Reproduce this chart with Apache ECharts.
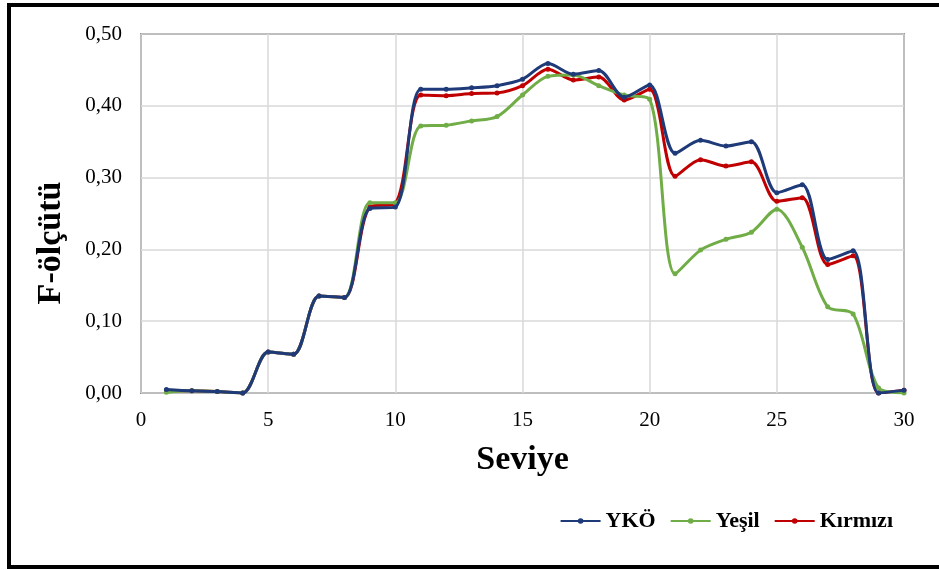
<!DOCTYPE html>
<html><head><meta charset="utf-8">
<script src="https://cdn.jsdelivr.net/npm/echarts@6/dist/echarts.min.js"></script>
<style>html,body{margin:0;padding:0;background:#fff}#c{width:939px;height:570px}</style>
</head><body><div id="c"></div>
<script>
const levels = [1,2,3,4,5,6,7,8,9,10,11,12,13,14,15,16,17,18,19,20,21,22,23,24,25,26,27,28,29,30];
const yko = [0.005,0.003,0.002,0.000,0.057,0.054,0.135,0.133,0.257,0.259,0.423,0.423,0.425,0.428,0.437,0.459,0.444,0.449,0.412,0.429,0.334,0.352,0.344,0.350,0.279,0.290,0.186,0.198,0.000,0.004];
const yesil = [0.001,0.003,0.002,0.000,0.057,0.054,0.135,0.133,0.265,0.265,0.372,0.373,0.379,0.385,0.415,0.441,0.443,0.428,0.415,0.409,0.166,0.199,0.214,0.224,0.256,0.203,0.120,0.110,0.007,0.000];
const kirmizi = [0.003,0.003,0.002,0.000,0.057,0.054,0.135,0.133,0.259,0.264,0.415,0.414,0.417,0.418,0.428,0.451,0.436,0.440,0.408,0.423,0.302,0.325,0.316,0.322,0.267,0.272,0.179,0.191,0.000,0.004];
const seriesNames = ['YKÖ','Yeşil','Kırmızı'];
const xTitle = 'Seviye';
const yTitle = 'F-ölçütü';

const colors = ['#1f3a78','#70ad47','#c00000'];
const font = '"Liberation Serif","Times New Roman",serif';
const chart = echarts.init(document.getElementById('c'));
function mk(name, data, i){
  return {name, type:'line', data: levels.map((x,k)=>[x,data[k]]), smooth:0.3,
    symbol:'circle', symbolSize:5, z: 10-i,
    lineStyle:{width:3,color:colors[i]}, itemStyle:{color:colors[i]}};
}
chart.setOption({
  animation:false,
  textStyle:{fontFamily:font},
  grid:{left:141,top:34,right:35,bottom:177,show:true,borderColor:'#404040',borderWidth:1.5},
  xAxis:{type:'value',min:0,max:30,interval:5,
    axisLine:{show:false},axisTick:{show:false},
    axisLabel:{color:'#000',fontSize:21,margin:17,fontFamily:font},
    splitLine:{lineStyle:{color:'#d9d9d9',width:1.5}},
    name:xTitle,nameLocation:'middle',nameGap:50,
    nameTextStyle:{fontSize:34,fontWeight:'bold',color:'#000',fontFamily:font}},
  yAxis:{type:'value',min:0,max:0.5,interval:0.1,
    axisLine:{show:false},axisTick:{show:false},
    axisLabel:{color:'#000',fontSize:21,margin:19,fontFamily:font,
      formatter:v=>v.toFixed(2).replace('.',',')},
    splitLine:{lineStyle:{color:'#d9d9d9',width:1.5}}},
  legend:{right:41,top:505,itemWidth:40,itemHeight:7,itemGap:14,
    textStyle:{fontSize:22,fontWeight:'bold',color:'#000',fontFamily:font},
    data:seriesNames},
  graphic:[
    {type:'rect',shape:{x:9,y:5,width:940,height:562},
      style:{fill:'none',stroke:'#000',lineWidth:4},silent:true},
    {type:'text',x:51,y:243,rotation:Math.PI/2,
      style:{text:yTitle,font:'bold 34px '+font,fill:'#000',align:'center',verticalAlign:'middle'}}
  ],
  series:[mk(seriesNames[0],yko,0),mk(seriesNames[1],yesil,1),mk(seriesNames[2],kirmizi,2)]
});
</script></body></html>
